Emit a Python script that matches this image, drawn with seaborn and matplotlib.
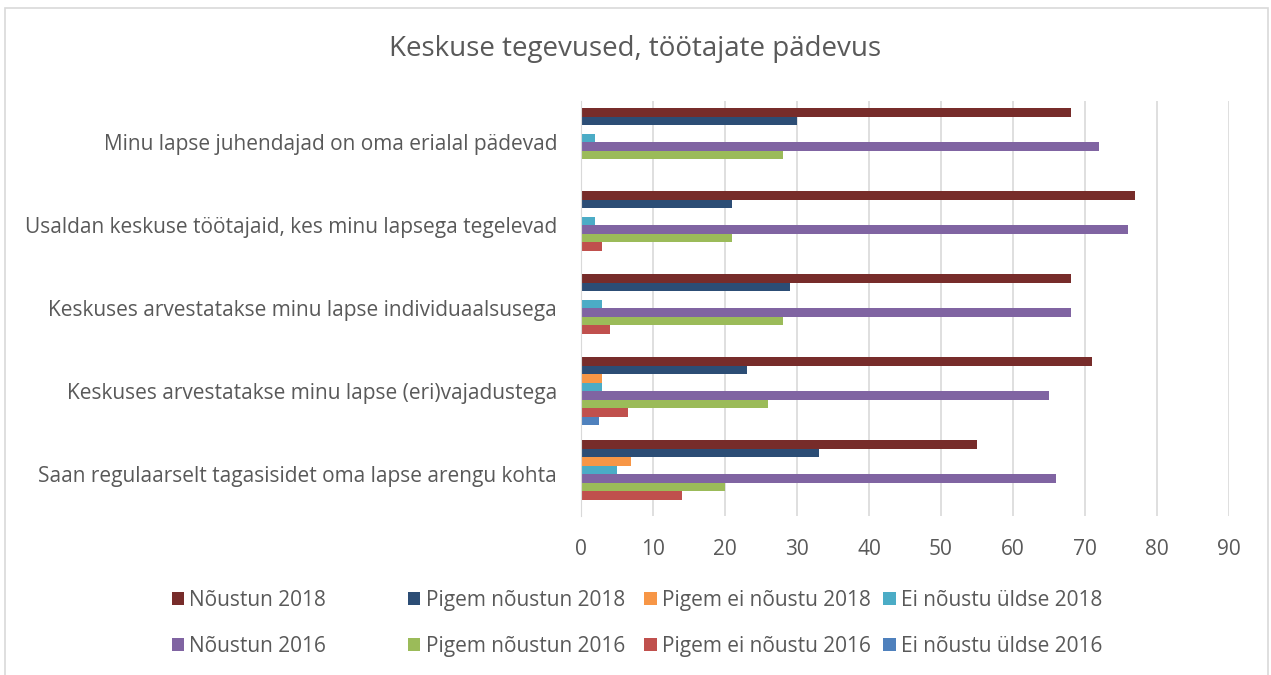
import pandas as pd
import seaborn as sns
import matplotlib.pyplot as plt
from matplotlib.patches import Rectangle

categories = [
    "Minu lapse juhendajad on oma erialal pädevad",
    "Usaldan keskuse töötajaid, kes minu lapsega tegelevad",
    "Keskuses arvestatakse minu lapse individuaalsusega",
    "Keskuses arvestatakse minu lapse (eri)vajadustega",
    "Saan regulaarselt tagasisidet oma lapse arengu kohta",
]
series = [
    "Nõustun 2018", "Pigem nõustun 2018", "Pigem ei nõustu 2018", "Ei nõustu üldse 2018",
    "Nõustun 2016", "Pigem nõustun 2016", "Pigem ei nõustu 2016", "Ei nõustu üldse 2016",
]
noustun_2018 = [68, 77, 68, 71, 55]
pigem_noustun_2018 = [30, 21, 29, 23, 33]
pigem_ei_noustu_2018 = [0, 0, 0, 3, 7]
ei_noustu_2018 = [2, 2, 3, 3, 5]
noustun_2016 = [72, 76, 68, 65, 66]
pigem_noustun_2016 = [28, 21, 28, 26, 20]
pigem_ei_noustu_2016 = [0, 3, 4, 6.5, 14]
ei_noustu_2016 = [0, 0, 0, 2.5, 0]

colors = ["#772C2A", "#2C4D75", "#F79646", "#4BACC6",
          "#8064A2", "#9BBB59", "#C0504D", "#4F81BD"]

values = [noustun_2018, pigem_noustun_2018, pigem_ei_noustu_2018, ei_noustu_2018,
          noustun_2016, pigem_noustun_2016, pigem_ei_noustu_2016, ei_noustu_2016]
rows = []
for s, vals in zip(series, values):
    for c, v in zip(categories, vals):
        rows.append({"kategooria": c, "seeria": s, "vaartus": v})
df = pd.DataFrame(rows)

sns.set_style("white")
plt.rcParams["font.family"] = ["Open Sans", "DejaVu Sans"]
gray = "#595959"

fig = plt.figure(figsize=(12.71, 6.75), dpi=100)
ax = fig.add_axes([0.457, 0.236, 0.510, 0.615])

sns.barplot(data=df, y="kategooria", x="vaartus", hue="seeria",
            order=categories, hue_order=series, palette=colors,
            orient="h", width=0.82, linewidth=0, saturation=1, ax=ax)

ax.set_xlim(0, 90)
ax.set_xticks(range(0, 91, 10))
ax.set_xlabel("")
ax.set_ylabel("")
ax.grid(axis="x", color="#D9D9D9", linewidth=1.2)
ax.set_axisbelow(True)
for side in ["top", "right", "bottom"]:
    ax.spines[side].set_visible(False)
ax.spines["left"].set_color("#D9D9D9")
ax.tick_params(axis="both", length=0, colors=gray, labelsize=15)
ax.tick_params(axis="y", pad=17)
ax.tick_params(axis="x", pad=17)

fig.text(0.5, 0.927, "Keskuse tegevused, töötajate pädevus", ha="center", va="center",
         fontsize=20, color=gray)

# legenda: neli ühelaiust veergu nagu Excelis
handles, labels = ax.get_legend_handles_labels()
ax.legend_.remove()
col_x = [0.135, 0.321, 0.507, 0.695]
for k, x in enumerate(col_x):
    fig.legend([handles[k], handles[k + 4]], [labels[k], labels[k + 4]],
               loc="center left", bbox_to_anchor=(x, 0.077), ncol=1, frameon=False,
               fontsize=15, labelcolor=gray, handlelength=0.6, handleheight=0.6,
               handletextpad=0.25, labelspacing=1.2, borderpad=0, borderaxespad=0)

fig.patches.append(Rectangle((0.004, -0.02), 0.994, 1.008, transform=fig.transFigure,
                             fill=False, edgecolor="#D9D9D9", linewidth=1.2))

fig.savefig("out.png", dpi=100)
